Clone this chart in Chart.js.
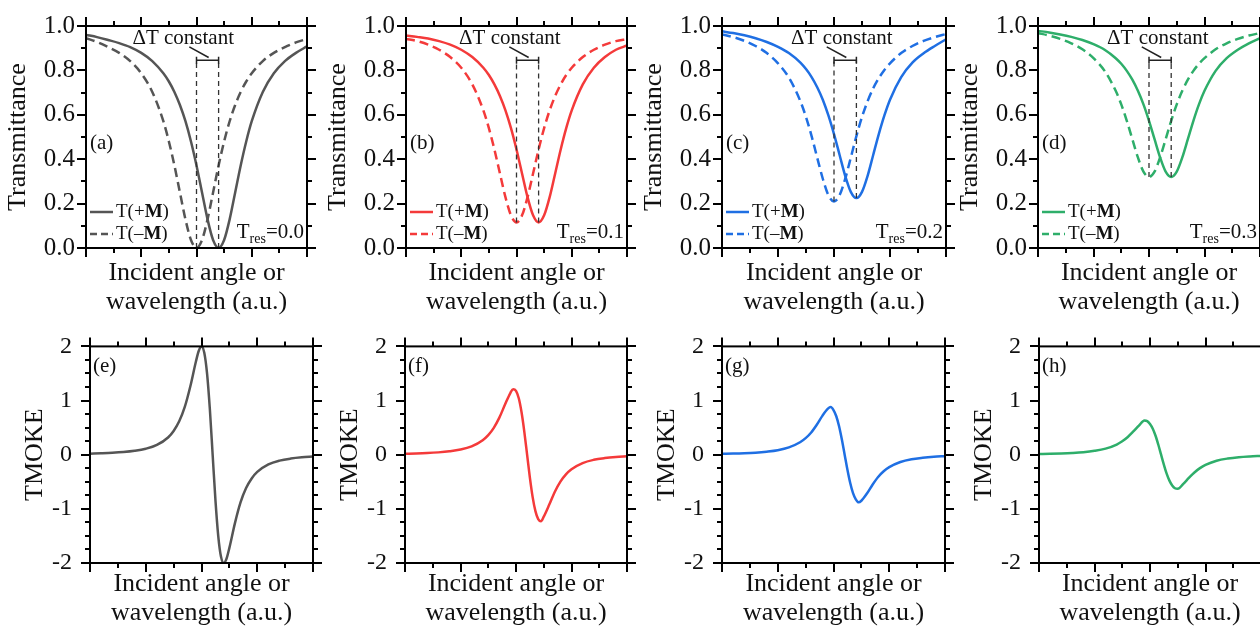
<!DOCTYPE html>
<html><head><meta charset="utf-8">
<script src="https://cdn.jsdelivr.net/npm/chart.js@4.4.1/dist/chart.umd.min.js"></script>
<style>
html,body{margin:0;padding:0;background:#fff;width:1260px;height:630px;overflow:hidden;position:relative}
canvas{position:absolute}
</style></head><body>
<script>
// ---------- data ----------
const xT = [0,0.2,0.4,0.6,0.8,1.0,1.2,1.4,1.5,1.6,1.7,1.8,1.9,2.0,2.1,2.2,2.3,2.4,2.5,2.6,2.7,2.8,2.9,3.0,3.2,3.4,3.6,3.8,4.0];
const tPlusA  = [0.960,0.950,0.937,0.923,0.905,0.879,0.842,0.787,0.750,0.703,0.644,0.571,0.480,0.372,0.250,0.129,0.036,0,0.036,0.129,0.250,0.372,0.480,0.571,0.703,0.787,0.842,0.879,0.908];
const tMinusA = [0.945,0.928,0.905,0.879,0.842,0.787,0.703,0.571,0.480,0.372,0.250,0.129,0.036,0,0.036,0.129,0.250,0.372,0.480,0.571,0.644,0.703,0.750,0.787,0.842,0.879,0.905,0.926,0.942];
const tPlusB  = [0.957,0.951,0.944,0.932,0.916,0.893,0.860,0.812,0.779,0.737,0.685,0.620,0.540,0.444,0.336,0.229,0.147,0.115,0.147,0.229,0.336,0.444,0.540,0.620,0.737,0.812,0.860,0.893,0.912];
const tMinusB = [0.942,0.932,0.916,0.893,0.860,0.812,0.737,0.620,0.540,0.444,0.336,0.229,0.147,0.115,0.147,0.229,0.336,0.444,0.540,0.620,0.685,0.737,0.779,0.812,0.860,0.893,0.916,0.932,0.940];
const tPlusC  = [0.976,0.968,0.958,0.945,0.928,0.906,0.877,0.835,0.806,0.770,0.724,0.668,0.597,0.513,0.419,0.325,0.253,0.225,0.253,0.325,0.419,0.513,0.597,0.668,0.770,0.835,0.877,0.910,0.940];
const tMinusC = [0.962,0.950,0.933,0.910,0.878,0.832,0.765,0.661,0.590,0.504,0.407,0.312,0.238,0.210,0.238,0.312,0.407,0.504,0.590,0.661,0.719,0.765,0.802,0.832,0.878,0.910,0.933,0.950,0.964];
const tPlusD  = [0.978,0.971,0.962,0.951,0.937,0.918,0.893,0.855,0.830,0.798,0.758,0.708,0.647,0.573,0.490,0.408,0.344,0.320,0.344,0.408,0.490,0.573,0.647,0.708,0.798,0.855,0.893,0.922,0.945];
const tMinusD = [0.968,0.957,0.942,0.922,0.895,0.855,0.798,0.708,0.647,0.573,0.490,0.408,0.344,0.320,0.344,0.408,0.490,0.573,0.647,0.708,0.758,0.798,0.830,0.855,0.895,0.922,0.942,0.957,0.968];

const xK = [0,0.2,0.4,0.6,0.8,1.0,1.2,1.4,1.5,1.6,1.7,1.8,1.9,1.95,2.0,2.05,2.1,2.15,2.2,2.25,2.3,2.35,2.4,2.45,2.5,2.6,2.7,2.8,2.9,3.0,3.2,3.4,3.6,3.8,4.0];
const kE = [0.019,0.026,0.035,0.049,0.072,0.110,0.180,0.318,0.439,0.616,0.881,1.263,1.721,1.916,2.0,1.885,1.497,0.839,0,-0.839,-1.497,-1.885,-2.0,-1.916,-1.721,-1.263,-0.881,-0.616,-0.439,-0.318,-0.180,-0.110,-0.072,-0.049,-0.035];
const kF = [0.017,0.022,0.030,0.043,0.063,0.095,0.154,0.268,0.362,0.496,0.684,0.921,1.144,1.21,1.177,1.042,0.783,0.423,0,-0.423,-0.783,-1.042,-1.19,-1.23,-1.144,-0.921,-0.684,-0.496,-0.362,-0.268,-0.154,-0.095,-0.063,-0.043,-0.030];
const kG = [0.016,0.020,0.027,0.038,0.056,0.083,0.134,0.229,0.305,0.411,0.554,0.717,0.850,0.88,0.824,0.710,0.524,0.279,0,-0.279,-0.524,-0.710,-0.824,-0.88,-0.850,-0.717,-0.554,-0.411,-0.305,-0.229,-0.134,-0.083,-0.056,-0.038,-0.027];
const kH = [0.013,0.017,0.023,0.032,0.046,0.071,0.112,0.188,0.248,0.328,0.429,0.538,0.63,0.62,0.567,0.479,0.350,0.184,0,-0.184,-0.350,-0.479,-0.567,-0.62,-0.63,-0.538,-0.429,-0.328,-0.248,-0.188,-0.112,-0.071,-0.046,-0.032,-0.023];

const tagsTop = ['(a)','(b)','(c)','(d)'];
const tagsBottom = ['(e)','(f)','(g)','(h)'];
const tresLabels = ['0.0','0.1','0.2','0.3'];
const dipMinusX = [2.0, 2.0, 2.0, 2.0];
const dipPlusX  = [2.4, 2.4, 2.4, 2.4];
const dipMinusT = [0, 0.115, 0.210, 0.320];
const dipPlusT  = [0, 0.115, 0.225, 0.320];
const deltaTextX = [1.76, 1.88, 2.14, 2.16];
const xTitle = ['Incident angle or','wavelength (a.u.)'];

// ---------- styles / layout ----------
const serif = "'Liberation Serif','Times New Roman',serif";
const colors = ['#555555','#f43a3a','#1f6fe3','#2eae6a'];
const topLeft = [86, 406, 722, 1038], topW = [221, 221, 224, 222];
const botLeft = [90, 405, 722, 1039], botW = [223, 222, 223, 222];

function seriesPts(xs, ys){ return xs.map((x,i)=>({x:x, y:ys[i]})); }

const deco = {
  id:'deco',
  afterDatasetsDraw(chart, args, o){
    const {ctx, chartArea:a, scales:{x, y}} = chart;
    ctx.save();
    ctx.fillStyle = '#111';
    ctx.textBaseline = 'middle';
    ctx.textAlign = 'left';
    if (o.kind === 'T') {
      const i = o.idx;
      const xm = x.getPixelForValue(dipMinusX[i]), xp = x.getPixelForValue(dipPlusX[i]);
      const yb = y.getPixelForValue(0.846);
      ctx.strokeStyle = '#333'; ctx.lineWidth = 1.3; ctx.setLineDash([5,4]);
      ctx.beginPath();
      ctx.moveTo(xm, y.getPixelForValue(dipMinusT[i])); ctx.lineTo(xm, yb);
      ctx.moveTo(xp, y.getPixelForValue(dipPlusT[i])); ctx.lineTo(xp, yb);
      ctx.stroke();
      ctx.setLineDash([]); ctx.strokeStyle = '#222'; ctx.lineWidth = 1.5;
      ctx.beginPath();
      ctx.moveTo(xm, yb); ctx.lineTo(xp, yb);
      ctx.moveTo(xm, y.getPixelForValue(0.862)); ctx.lineTo(xm, y.getPixelForValue(0.83));
      ctx.moveTo(xp, y.getPixelForValue(0.862)); ctx.lineTo(xp, y.getPixelForValue(0.83));
      ctx.moveTo(x.getPixelForValue(1.87), y.getPixelForValue(0.906));
      ctx.lineTo(x.getPixelForValue(2.22), y.getPixelForValue(0.858));
      ctx.stroke();
      ctx.font = `21px ${serif}`; ctx.textAlign = 'center';
      ctx.fillText('\u0394T constant', x.getPixelForValue(deltaTextX[i]), y.getPixelForValue(0.946));
      // tag
      ctx.textAlign = 'left';
      ctx.fillText(tagsTop[i], a.left + 4, a.top + 117);
      // legend
      const col = colors[i];
      const rows = [{s:'+', dash:[], yy:a.top+186}, {s:'\u2013', dash:[7,4], yy:a.top+208}];
      rows.forEach(r=>{
        ctx.strokeStyle = col; ctx.lineWidth = 2.5; ctx.setLineDash(r.dash);
        ctx.beginPath(); ctx.moveTo(a.left+4, r.yy); ctx.lineTo(a.left+27, r.yy); ctx.stroke();
        ctx.setLineDash([]);
        let xx = a.left + 30;
        ctx.font = `19px ${serif}`; ctx.fillText('T(' + r.s, xx, r.yy); xx += ctx.measureText('T(' + r.s).width;
        ctx.font = `bold 19px ${serif}`; ctx.fillText('M', xx, r.yy); xx += ctx.measureText('M').width;
        ctx.font = `19px ${serif}`; ctx.fillText(')', xx, r.yy);
      });
      // T_res
      ctx.textBaseline = 'alphabetic';
      ctx.font = `21px ${serif}`; const w1 = ctx.measureText('T').width, w3 = ctx.measureText('=' + tresLabels[i]).width;
      ctx.font = `14px ${serif}`; const w2 = ctx.measureText('res').width;
      let xr = a.right - 3 - (w1 + w2 + w3); const bl = a.bottom - 10;
      ctx.font = `21px ${serif}`; ctx.fillText('T', xr, bl);
      ctx.font = `14px ${serif}`; ctx.fillText('res', xr + w1, bl + 5);
      ctx.font = `21px ${serif}`; ctx.fillText('=' + tresLabels[i], xr + w1 + w2, bl);
    } else {
      ctx.font = `21px ${serif}`;
      ctx.fillText(tagsBottom[o.idx], a.left + 3, a.top + 20);
    }
    ctx.restore();
  },
  afterDraw(chart, args, o){
    const {ctx, chartArea:a, scales:{x, y}} = chart;
    ctx.save();
    ctx.strokeStyle = '#000'; ctx.lineWidth = 2; ctx.setLineDash([]);
    ctx.strokeRect(a.left, a.top, a.right - a.left, a.bottom - a.top);
    ctx.beginPath();
    const isMaj = (v, m) => Math.abs(v/m - Math.round(v/m)) < 1e-6;
    for (let k = 0; ; k++) {
      const v = x.min + k*o.xMinor; if (v > x.max + 1e-9) break;
      const p = Math.round(x.getPixelForValue(v));
      const L = isMaj(v, o.xMajor) ? 9 : 5;
      ctx.moveTo(p, a.bottom); ctx.lineTo(p, a.bottom + L);
      ctx.moveTo(p, a.top); ctx.lineTo(p, a.top - L);
    }
    for (let k = 0; ; k++) {
      const v = y.min + k*o.yMinor; if (v > y.max + 1e-9) break;
      const p = Math.round(y.getPixelForValue(v));
      const L = isMaj(v - y.min, o.yMajor) ? 9 : 5;
      ctx.moveTo(a.left, p); ctx.lineTo(a.left - L, p);
      ctx.moveTo(a.right, p); ctx.lineTo(a.right + L, p);
    }
    ctx.stroke();
    ctx.restore();
  }
};

function makeChart(p){
  const cv = document.createElement('canvas');
  cv.width = p.cw; cv.height = p.ch;
  cv.style.left = p.left + 'px'; cv.style.top = p.top + 'px';
  cv.style.width = p.cw + 'px'; cv.style.height = p.ch + 'px';
  document.body.appendChild(cv);
  new Chart(cv, {
    type: 'line',
    data: { datasets: p.datasets },
    options: {
      responsive: false, animation: false, devicePixelRatio: 1,
      layout: { padding: { left: 0, right: p.padR, top: 25, bottom: 0 } },
      plugins: { legend: { display: false }, tooltip: { enabled: false },
        deco: { kind: p.kind, idx: p.idx, xMinor: 0.5, xMajor: 1, yMinor: p.yMinor, yMajor: p.yMajor } },
      elements: { point: { radius: 0 }, line: { cubicInterpolationMode: 'monotone', borderWidth: 2.5 } },
      scales: {
        x: {
          type: 'linear', min: 0, max: 4,
          grid: { display: false, drawTicks: false }, border: { display: false },
          ticks: { display: false, stepSize: 1 },
          title: { display: true, text: xTitle, color: '#111',
            font: { family: serif, size: 26, lineHeight: 1.12 }, padding: { top: 0, bottom: p.xTitlePad } },
          afterFit: s => { s.height = p.xh; }
        },
        y: {
          type: 'linear', min: p.ymin, max: p.ymax,
          grid: { display: false, drawTicks: false }, border: { display: false },
          ticks: { stepSize: p.yMajor, autoSkip: false, color: '#111', padding: p.tickPad,
            font: { family: serif, size: p.tickSize }, callback: p.fmt },
          title: { display: true, text: p.yTitle, color: '#111',
            font: { family: serif, size: 26, lineHeight: 1.12 }, padding: { top: p.yTitlePad, bottom: 0 } },
          afterFit: s => { s.width = 86; }
        }
      }
    },
    plugins: [deco]
  });
}

const tPlus = [tPlusA, tPlusB, tPlusC, tPlusD];
const tMinus = [tMinusA, tMinusB, tMinusC, tMinusD];
const kSeries = [kE, kF, kG, kH];

for (let i = 0; i < 4; i++) {
  makeChart({
    kind: 'T', idx: i, left: topLeft[i] - 86, top: 0, cw: 86 + topW[i] + 14, ch: 320, padR: 14, xh: 72,
    xTitlePad: 3, ymin: 0, ymax: 1, yMajor: 0.2, yMinor: 0.1, tickPad: 11, tickSize: 25, yTitle: 'Transmittance', yTitlePad: 3.5,
    fmt: v => v.toFixed(1),
    datasets: [
      { data: seriesPts(xT, tPlus[i]), borderColor: colors[i], borderWidth: 2.5, fill: false },
      { data: seriesPts(xT, tMinus[i]), borderColor: colors[i], borderWidth: 2.5, borderDash: [9,5], fill: false }
    ]
  });
}
for (let i = 0; i < 4; i++) {
  makeChart({
    kind: 'K', idx: i, left: botLeft[i] - 86, top: 314, cw: 86 + botW[i] + 14, ch: 316, padR: 14, xh: 67,
    xTitlePad: 2.3, ymin: -2, ymax: 2, yMajor: 1, yMinor: 0.25, tickPad: 18, tickSize: 24, yTitle: 'TMOKE', yTitlePad: 16.8,
    fmt: v => String(Math.round(v)),
    datasets: [
      { data: seriesPts(xK, kSeries[i]), borderColor: colors[i], borderWidth: 2.5, fill: false }
    ]
  });
}
</script>
</body></html>
